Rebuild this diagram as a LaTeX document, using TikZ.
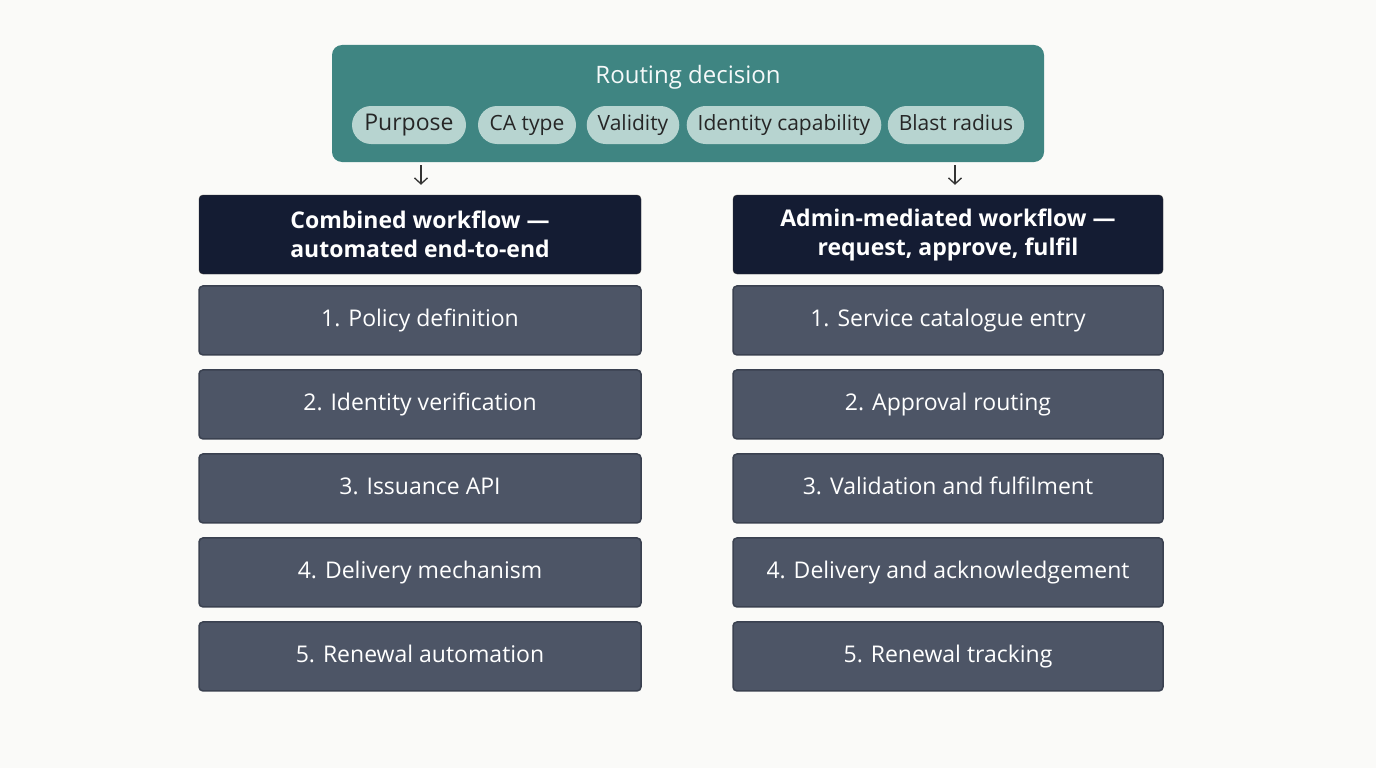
\documentclass[tikz,border=0pt]{standalone}
\usepackage{fontspec}
\setmainfont{Open Sans}
\usetikzlibrary{positioning,arrows.meta}

\definecolor{bgcol}{HTML}{FAFAF8}
\definecolor{tealcol}{HTML}{3F8582}
\definecolor{pillcol}{HTML}{B7D4D0}
\definecolor{headcol}{HTML}{141C33}
\definecolor{stagecol}{HTML}{4D5566}
\definecolor{stageedge}{HTML}{3A4150}

\tikzset{
    pill/.style={fill=pillcol, rounded corners=19pt, minimum height=38pt, inner xsep=11pt, text height=15pt, text depth=4pt, font=\fontsize{21}{24}\selectfont, text=black!85},
    head/.style={fill=headcol, draw=black!80, rounded corners=4pt, minimum height=79pt, align=center, text=white, font=\fontsize{23}{29}\bfseries\selectfont},
    stage/.style={fill=stagecol, draw=stageedge, line width=1.5pt, rounded corners=4pt, minimum height=69pt, text height=17pt, text depth=5pt, text=white, font=\fontsize{23}{28}\selectfont},
    flow/.style={-{Straight Barb[length=6pt,width=13pt]}, line width=1.3pt, black!80, shorten >=10pt}
}

\begin{document}
\begin{tikzpicture}[x=1pt, y=-1pt, node distance=13.5pt]
    % background
    \fill[bgcol] (0,0) rectangle (1376,768);

    % routing decision panel
    \fill[tealcol, rounded corners=10pt] (332,45) rectangle (1044,162);
    \node[text=white!95!tealcol, font=\fontsize{24}{28}\selectfont] (title) at (688,77) {Routing decision};

    % criteria
    \node[pill, minimum width=114pt, font=\fontsize{23}{26}\selectfont] (purpose) at (409,125) {Purpose};
    \node[pill, minimum width=98pt] (catype) at (527,125) {CA type};
    \node[pill, minimum width=92pt] (validity) at (633,125) {Validity};
    \node[pill, minimum width=188pt] (identity) at (784,125) {Identity capability};
    \node[pill, minimum width=135pt] (blast) at (956,125) {Blast radius};

    % left column: combined workflow
    \node[head, minimum width=442pt] (combined) at (420,234.5) {Combined workflow ---\\automated end-to-end};
    \node[stage, minimum width=442pt, below=11pt of combined] (c1) {1. Policy definition};
    \node[stage, minimum width=442pt, below=of c1] (c2) {2. Identity verification};
    \node[stage, minimum width=442pt, below=of c2] (c3) {3. Issuance API};
    \node[stage, minimum width=442pt, below=of c3] (c4) {4. Delivery mechanism};
    \node[stage, minimum width=442pt, below=of c4] (c5) {5. Renewal automation};

    % right column: admin-mediated workflow
    \node[head, minimum width=430pt] (admin) at (948,234.5) {Admin-mediated workflow ---\\request, approve, fulfil};
    \node[stage, minimum width=430pt, below=11pt of admin] (a1) {1. Service catalogue entry};
    \node[stage, minimum width=430pt, below=of a1] (a2) {2. Approval routing};
    \node[stage, minimum width=430pt, below=of a2] (a3) {3. Validation and fulfilment};
    \node[stage, minimum width=430pt, below=of a3] (a4) {4. Delivery and acknowledgement};
    \node[stage, minimum width=430pt, below=of a4] (a5) {5. Renewal tracking};

    % arrows
    \coordinate (lsrc) at (421,165);
    \coordinate (rsrc) at (955,165);
    \draw[flow] (lsrc) -- (lsrc |- combined.north);
    \draw[flow] (rsrc) -- (rsrc |- admin.north);
\end{tikzpicture}
\end{document}
